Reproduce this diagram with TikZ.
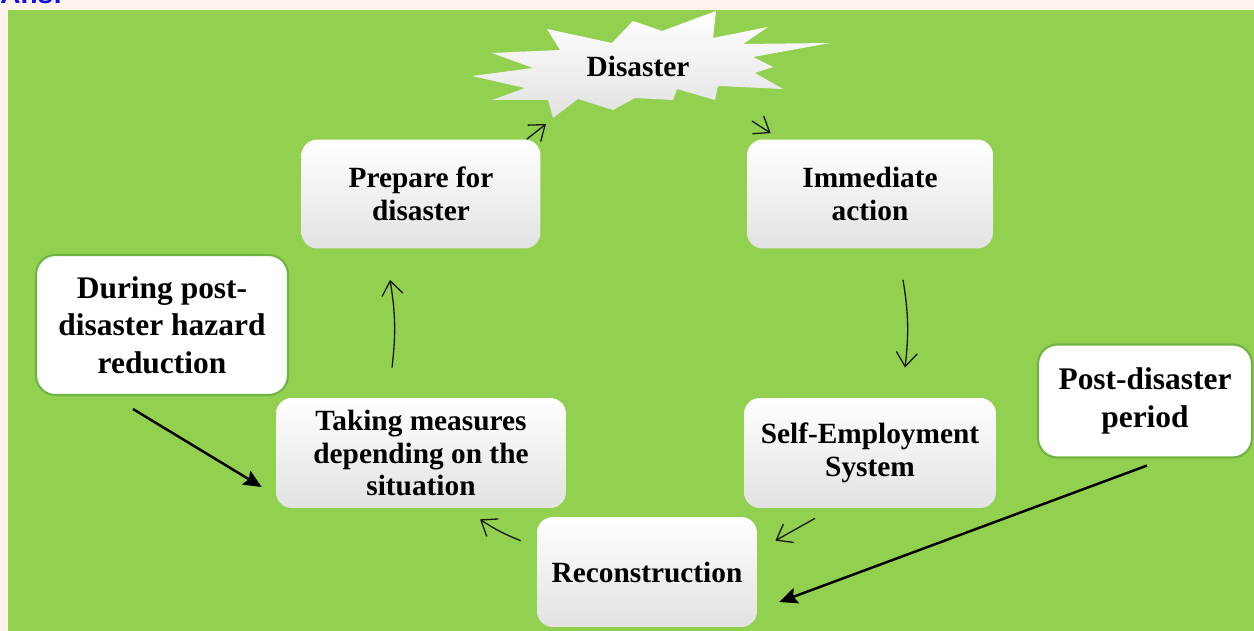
\documentclass[tikz,border=0pt]{standalone}
\usepackage{fontspec}
\setmainfont{Liberation Serif}
\newfontfamily\ansfont{Liberation Sans}
\usepackage{xcolor}
\definecolor{PageCream}{HTML}{FDF3EA}
\definecolor{LeafGreen}{HTML}{92D050}
\definecolor{EdgeGreen}{HTML}{6FB342}
\definecolor{BoxGrey}{HTML}{E2E2E2}
\definecolor{AnsBlue}{HTML}{1010E6}
\usepackage{tikz}
\usetikzlibrary{arrows.meta,positioning}
\tikzset{
  cyclebox/.style={
    rounded corners=9pt,
    top color=white,
    middle color=white,
    bottom color=BoxGrey,
    align=center,
    font=\fontsize{16.7}{18.7}\selectfont\bfseries,
    inner sep=0pt
  },
  sidebox/.style={
    draw=EdgeGreen,
    fill=white,
    line width=1.2pt,
    rounded corners=11pt,
    align=center,
    font=\fontsize{17.9}{21.3}\selectfont\bfseries,
    inner sep=0pt
  },
  burst/.style={
    top color=white,
    middle color=white,
    bottom color=BoxGrey
  },
  cycleline/.style={
    draw=black!90,
    -{Straight Barb[length=2.8mm,width=4.2mm]},
    line width=0.75pt
  },
  sideline/.style={
    draw=black,
    -{Stealth[length=3.6mm,width=3.2mm,inset=0.6mm]},
    line width=1.4pt
  }
}

\begin{document}
\begin{tikzpicture}[x=0.02cm,y=-0.02cm]
  \useasboundingbox (0,0) rectangle (1254,631);
  \fill[PageCream] (0,0) rectangle (1254,631);
  \fill[LeafGreen] (8,10) rectangle (1254,631);
  \node[anchor=base west,inner sep=0pt,text=AnsBlue,font=\fontsize{15.9}{18}\ansfont\bfseries] (ans) at (0,4) {Ans:};
  % starburst round the disaster label
  \path[burst] (472,76) -- (533,68) -- (492,53) -- (560,50) -- (547,29) -- (612,43) -- (633,21) -- (662,31)
    -- (716,11) -- (713,38) -- (768,27) -- (743,44) -- (830,43) -- (753,57) -- (773,67) -- (755,73)
    -- (783,89) -- (718,86) -- (715,100) -- (677,89) -- (673,100) -- (635,98) -- (613,110) -- (578,99)
    -- (553,118) -- (548,100) -- (492,100) -- (525,88) -- cycle;
  \node[font=\fontsize{16.7}{18.7}\selectfont\bfseries,inner sep=0pt] (dis) at (638,66) {Disaster};
  \node[cyclebox,minimum width=4.78cm,minimum height=2.18cm] (prep) at (421,194) {Prepare for\\disaster};
  \node[cyclebox,minimum width=4.92cm,minimum height=2.18cm] (imm) at (870,194) {Immediate\\action};
  \node[cyclebox,minimum width=5.04cm,minimum height=2.2cm] (self) at (870,453) {Self-Employment\\System};
  \node[cyclebox,minimum width=4.4cm,minimum height=2.2cm] (recon) at (647,572) {Reconstruction};
  \node[cyclebox,minimum width=5.8cm,minimum height=2.2cm] (meas) at (421,453) {Taking measures\\depending on the\\situation};
  \node[sidebox,minimum width=5.04cm,minimum height=2.8cm] (during) at (162,325) {During post-\\disaster hazard\\reduction};
  \node[sidebox,minimum width=4.28cm,minimum height=2.26cm] (post) at (1145,401) {Post-disaster\\period};
  \draw[cycleline] ([shift={(-14,0)}]prep.north east) -- ([shift={(-92,58)}]dis.center);
  \draw[cycleline] ([shift={(114,55)}]dis.center) -- ([shift={(24,-6)}]imm.north west);
  \draw[cycleline] ([shift={(33,31)}]imm.south) to[bend left=8] ([shift={(35,-30)}]self.north);
  \draw[cycleline] ([shift={(-55,10)}]self.south) -- ([shift={(18,24)}]recon.north east);
  \draw[cycleline] ([shift={(-16,24)}]recon.north west) to[bend left=6] ([shift={(59,11)}]meas.south);
  \draw[cycleline] ([shift={(-29,-30)}]meas.north) to[bend right=8] ([shift={(-31,31)}]prep.south);
  \draw[sideline] ([shift={(-29,13)}]during.south) -- ([shift={(-14,34)}]meas.west);
  \draw[sideline] ([shift={(2,7)}]post.south) -- ([shift={(22,30)}]recon.east);
\end{tikzpicture}
\end{document}
